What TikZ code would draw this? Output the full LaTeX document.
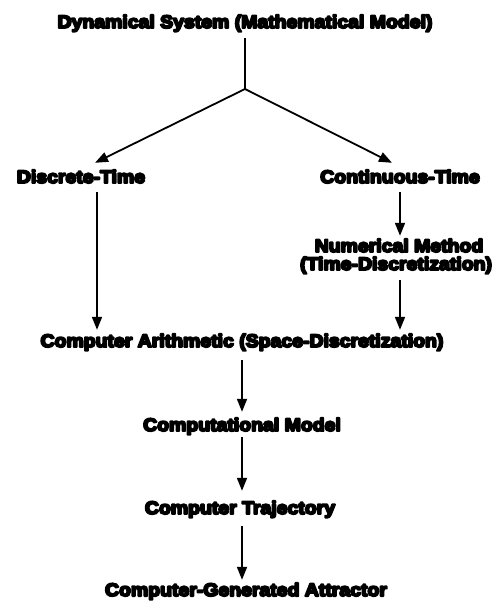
\documentclass[tikz,border=0pt]{standalone}
\usepackage{fontspec}
\newfontfamily\lblfont{Liberation Sans}[UprightFont=* Bold, FakeStretch=1.08, FakeBold=11]
\usetikzlibrary{arrows.meta}
\begin{document}
\begin{tikzpicture}[x=1pt,y=-1pt,
  lbl/.style={inner sep=0pt, text height=13pt, text depth=4pt, anchor=base,
              font=\lblfont\fontsize{18pt}{16pt}\selectfont,
              % round joins keep the emboldened glyph corners from spiking
              execute at begin node=\special{pdf:literal 1 j 1 J}},
  link/.style={line width=1.8pt},
  arr/.style={link,-{Triangle[length=13pt,width=10pt]}}]
\fill[white] (0,0) rectangle (501,601);
\useasboundingbox (0,0) rectangle (501,601);

% column positions for the vertical links
\coordinate (fork) at (245,89);
\coordinate (lcol) at (97,0);
\coordinate (rcol) at (400,0);
\coordinate (mcol) at (242,0);

% labels
\node[lbl] (sys) at (245,28) {Dynamical System (Mathematical Model)};
\node[lbl] (dt)  at (81,183)  {Discrete-Time};
\node[lbl] (ct)  at (400,183) {Continuous-Time};
\node[lbl, text depth=0pt] (nm) at (399,252) {Numerical Method};
\node[lbl, text height=12pt] (td) at (396,270) {(Time-Discretization)};
\node[lbl] (ca)  at (242,347) {Computer Arithmetic (Space-Discretization)};
\node[lbl] (cm)  at (242,431) {Computational Model};
\node[lbl] (tr)  at (240,514) {Computer Trajectory};
\node[lbl] (ga)  at (246,596) {Computer-Generated Attractor};

% links
\draw[link, shorten <=6pt] (sys.south -| fork) -- (fork);
\draw[arr] (fork) -- ([xshift=14pt,yshift=7pt]dt.north);
\draw[arr] (fork) -- ([xshift=-8pt,yshift=7pt]ct.north);
\draw[arr, shorten <=5pt, shorten >=4pt] (dt.south -| lcol) -- (ca.north -| lcol);
\draw[arr, shorten <=5pt, shorten >=3pt] (ct.south -| rcol) -- (nm.north -| rcol);
\draw[arr, shorten <=6pt, shorten >=4pt] (td.south -| rcol) -- (ca.north -| rcol);
\draw[arr, shorten <=9pt, shorten >=6pt] (ca.south -| mcol) -- (cm.north -| mcol);
\draw[arr, shorten <=2pt, shorten >=10pt] (cm.south -| mcol) -- (tr.north -| mcol);
\draw[arr, shorten <=8pt, shorten >=3pt] (tr.south -| mcol) -- (ga.north -| mcol);
\end{tikzpicture}
\end{document}
